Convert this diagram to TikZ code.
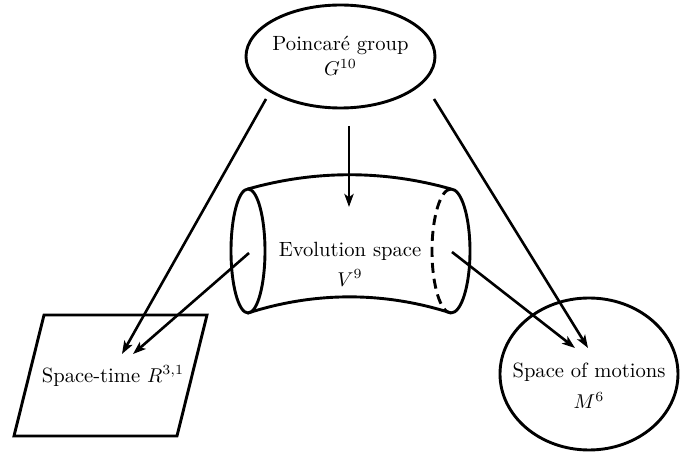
\documentclass[tikz,border=0pt]{standalone}
\usetikzlibrary{shapes.geometric,arrows.meta}
\begin{document}
\begin{tikzpicture}[x=0.5pt,y=-0.5pt,
  shape line/.style={line width=1.45pt},
  conn/.style={line width=1.3pt,-{Stealth[length=6.5pt,width=4.6pt,inset=1.6pt]}},
  oval/.style={ellipse,draw,line width=1.45pt,inner sep=0pt},
  label text/.style={align=center,inner sep=1pt,font=\fontsize{10.3}{12.4}\selectfont}]
\useasboundingbox (0,0) rectangle (698,454);
% Poincare group
\node[oval,minimum width=94.5pt,minimum height=51.5pt] (poinc) at (340.5,56.5) {};
\node[label text] (poinctext) at (340.5,56) {Poincar\'e group\\ $G^{10}$};
% Space of motions
\node[oval,minimum width=89pt,minimum height=76pt] (motions) at (589,374) {};
\node[label text] (motionstext) at (589,386) {Space of motions\\[3pt] $M^6$};
% Space-time parallelogram
\draw[shape line,line join=miter] (44,315) -- (207,315) -- (177,436) -- (14,436) -- cycle;
\node[label text] (stime) at (113,376) {Space-time $R^{3,1}$};
% Evolution space cylinder
\draw[shape line] (248,251) ellipse [x radius=17, y radius=62];
\draw[shape line] (248,189) .. controls (315,170) and (384,170) .. (451,189);
\draw[shape line] (248,313) .. controls (315,291.5) and (384,291.5) .. (451,313);
\draw[shape line] (451,189) arc[start angle=-90,end angle=90,x radius=19,y radius=62];
\draw[shape line,dash pattern=on 5pt off 3pt] (451,189) arc[start angle=270,end angle=90,x radius=19,y radius=62];
\node[label text] (evol) at (350,264) {Evolution space\\[2.5pt] $V^9$};
% connector end points
\coordinate (p1) at (266,99);
\coordinate (p2) at (349,126);
\coordinate (p5) at (434,99);
\coordinate (e1) at (249,253);
\coordinate (e2) at (452,252);
\coordinate (t1) at (122,354);
\coordinate (t2) at (133,354);
\coordinate (m1) at (575,348);
\coordinate (m2) at (588,348);
\coordinate (v1) at (349,207);
% connectors
\draw[conn] (p1) -- (t1);
\draw[conn] (p2) -- (v1);
\draw[conn] (e1) -- (t2);
\draw[conn] (e2) -- (m1);
\draw[conn] (p5) -- (m2);
\end{tikzpicture}
\end{document}
